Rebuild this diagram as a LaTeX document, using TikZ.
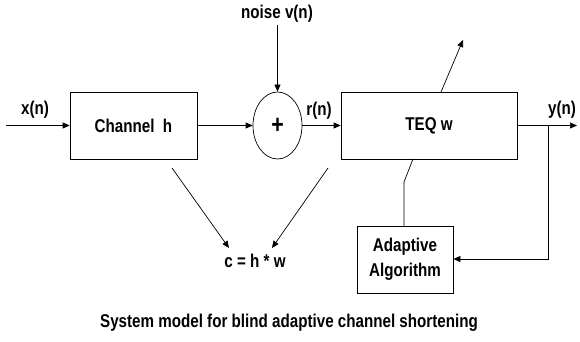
\documentclass[tikz,border=0pt]{standalone}
\usepackage{fontspec}
\setmainfont{Liberation Sans}[FakeStretch=0.82]
\usetikzlibrary{shapes.geometric,arrows.meta}
\begin{document}
\begin{tikzpicture}[x=1pt,y=-1pt,
  font=\fontsize{18.5}{22}\selectfont\bfseries,
  every path/.style={line width=0.7pt},
  arr/.style={-{Triangle[length=7pt,width=6pt]}},
  blockbox/.style={draw,minimum height=67pt,inner sep=0pt},
  lbl/.style={inner sep=0pt}]
\useasboundingbox (0,0) rectangle (580,342);
\node[blockbox,minimum width=127pt] (ch) at (133.5,125.5) {Channel\ \ h};
\node[draw,ellipse,minimum width=49pt,minimum height=67pt,inner sep=0pt,font=\fontsize{26}{28}\selectfont\bfseries] (sum) at (277.5,125.5) {+};
\node[blockbox,minimum width=176pt] (teq) at (429,125.5) {TEQ w};
\node[blockbox,minimum width=96pt,align=center,font=\fontsize{18.5}{25}\selectfont\bfseries] (ad) at (405,259.5) {Adaptive\\Algorithm};
\node[lbl] (xl) at (35,110) {x(n)};
\node[lbl] (nl) at (277,14) {noise v(n)};
\node[lbl] (rl) at (319,111) {r(n)};
\node[lbl] (yl) at (562,110) {y(n)};
\node[lbl] (cl) at (255,261) {c = h * w};
\node[lbl] (cap) at (289,323) {System model for blind adaptive channel shortening};
\coordinate (in) at (6,125.5);
\coordinate (out) at (577,125.5);
\coordinate (br) at (548,125.5);
\coordinate (brd) at (548,259);
\coordinate (ns) at (277.5,25);
\coordinate (up0) at (441,92);
\coordinate (up1) at (463,40);
\coordinate (dn0) at (413,159);
\coordinate (dn1) at (404,182);
\coordinate (ad0) at (404,226);
\coordinate (c1a) at (172,168);
\coordinate (c1b) at (229,248);
\coordinate (c2a) at (328,168);
\coordinate (c2b) at (272,248);
\draw[arr] (in) -- (ch);
\draw[arr] (ch) -- (sum);
\draw[arr] (sum) -- (teq);
\draw[arr] (teq.east) -- (out);
\draw[arr] (ns) -- (sum);
\draw[arr] (br) -- (brd) -- (ad.east |- brd);
\draw[arr] (up0) -- (up1);
\draw (dn0) -- (dn1) -- (ad0);
\draw[arr] (c1a) -- (c1b);
\draw[arr] (c2a) -- (c2b);
\end{tikzpicture}
\end{document}
